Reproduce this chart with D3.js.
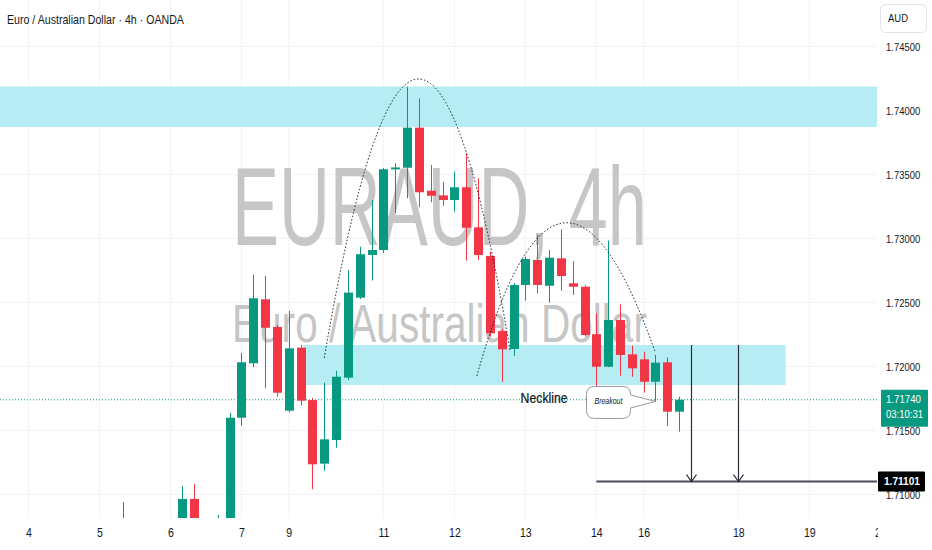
<!DOCTYPE html>
<html><head><meta charset="utf-8">
<script src="https://cdn.jsdelivr.net/npm/d3@7/dist/d3.min.js"></script>
<style>html,body{margin:0;padding:0;background:#fff;}svg{display:block;}</style>
</head><body>
<svg id="chart" width="932" height="550"></svg>
<script>
// ---------- DATA ----------
const title = "Euro / Australian Dollar · 4h · OANDA";
const watermark1 = "EURAUD, 4h";
const watermark2 = "Euro / Australian Dollar";
const currency = "AUD";
const firstBar = 8;
const opens  = [1.70720,1.70790,1.70690,1.70730,1.70700,1.70780,1.70965,1.70790,1.70710,1.70760,1.71600,1.72025,1.72525,1.72309,1.71655,1.72147,1.71738,1.71241,1.71426,1.71913,1.72538,1.72871,1.72910,1.73540,1.73553,1.73866,1.73373,1.73337,1.73301,1.73400,1.73087,1.72863,1.72277,1.72137,1.72637,1.72832,1.72631,1.72845,1.72650,1.72623,1.72252,1.71998,1.72363,1.72095,1.72056,1.71881,1.72033,1.71647];
const highs  = [1.70941,1.70800,1.70760,1.70790,1.70800,1.71066,1.71082,1.70810,1.70840,1.71637,1.72106,1.72715,1.72707,1.72324,1.72434,1.72168,1.71754,1.71873,1.71967,1.72754,1.72936,1.73301,1.73551,1.73588,1.74186,1.74095,1.73574,1.73444,1.73522,1.73666,1.73470,1.72897,1.72293,1.72652,1.72858,1.73027,1.72910,1.73072,1.72824,1.72635,1.72416,1.72983,1.72486,1.72163,1.72116,1.72090,1.72072,1.71764];
const lows   = [1.70680,1.70640,1.70600,1.70660,1.70670,1.70740,1.70720,1.70680,1.70660,1.70720,1.71538,1.71994,1.71830,1.71764,1.71642,1.71697,1.71041,1.71186,1.71366,1.71895,1.72527,1.72672,1.72887,1.73197,1.73314,1.73244,1.73283,1.73256,1.73209,1.72827,1.72832,1.72233,1.71881,1.72082,1.72514,1.72572,1.72498,1.72592,1.72559,1.72234,1.71822,1.71995,1.71928,1.71920,1.71795,1.71725,1.71535,1.71491];
const closes = [1.70790,1.70690,1.70730,1.70700,1.70780,1.70965,1.70790,1.70710,1.70760,1.71600,1.72033,1.72533,1.72303,1.71795,1.72142,1.71733,1.71236,1.71431,1.71920,1.72577,1.72877,1.72910,1.73541,1.73555,1.73866,1.73361,1.73334,1.73301,1.73400,1.73084,1.72871,1.72259,1.72134,1.72637,1.72840,1.72637,1.72850,1.72707,1.72623,1.72246,1.71998,1.72363,1.72090,1.71986,1.71881,1.72030,1.71647,1.71740];
const priceTicks = [1.745,1.740,1.735,1.730,1.725,1.720,1.715,1.710];
const dayLabels = ["4","5","6","7","9","11","12","13","14","16","18","19","20"];
const dayBars   = [0,6,12,18,22,30,36,42,48,52,60,66,72];
const lastPrice = 1.71740;
const countdown = "03:10:31";
const targetPrice = 1.71101;
// annotations (bar index, price)
const zoneBars   = [[-3, 80], [23.2, 64]];
const zonePrices = [[1.741875, 1.738711], [1.72168, 1.718555]];
const arcStart = [[25, 1.72066], [37.9, 1.71926]];
const arcPeak  = [[32.92, 1.74246], [45.18, 1.73121]];
const arcEnd   = [[40.7, 1.72129], [53.0, 1.72106]];
const arrowBars = [56, 60];
const arrowTop = 1.72168;
const targetStartBar = 48;
const necklineText = "Neckline";
const necklineAnchor = [41.6, 1.71745];
const breakoutText = "Breakout";
const breakoutTip = [53, 1.71727];

// ---------- LAYOUT ----------
const W = 932, H = 550, plotW = 877, plotH = 518;
const green = "#089981", red = "#F23645";
const font = "'Liberation Sans',Arial,sans-serif";
const svg = d3.select("#chart");
svg.append("rect").attr("width", W).attr("height", H).attr("fill", "#fff");

// squeeze text horizontally (the reference uses a narrow face)
function squeezeTo(sel, width) {
  sel.each(function () {
    const t = d3.select(this);
    const x0 = +t.attr("x") || 0, y0 = +t.attr("y") || 0;
    const w = this.getComputedTextLength();
    const k = width / w;
    t.attr("x", 0).attr("y", 0).attr("transform", `translate(${x0},${y0}) scale(${k},1)`);
  });
}
function squeezeBy(sel, k) {
  sel.each(function () {
    const t = d3.select(this);
    const x0 = +t.attr("x") || 0, y0 = +t.attr("y") || 0;
    t.attr("x", 0).attr("y", 0).attr("transform", `translate(${x0},${y0}) scale(${k},1)`);
  });
}

const x = d3.scaleLinear().domain([-2.409, 71.725]).range([0, plotW]);
const y = d3.scaleLinear().domain([1.708164, 1.748633]).range([plotH, 0]);

const defs = svg.append("defs");
defs.append("clipPath").attr("id", "plotClip").append("rect").attr("width", plotW).attr("height", plotH);
defs.append("clipPath").attr("id", "xClipL").append("rect").attr("x", 0).attr("y", -20).attr("width", plotW + 1).attr("height", 60);

const plot = svg.append("g").attr("clip-path", "url(#plotClip)");

// gridlines
plot.append("g").selectAll("line").data(priceTicks).join("line")
  .attr("x1", 0).attr("x2", plotW).attr("y1", d => y(d)).attr("y2", d => y(d))
  .attr("stroke", "#f0f3fa").attr("stroke-width", 1);
plot.append("g").selectAll("line").data(dayBars).join("line")
  .attr("x1", d => x(d)).attr("x2", d => x(d)).attr("y1", 0).attr("y2", plotH)
  .attr("stroke", "#f0f3fa").attr("stroke-width", 1);

// watermark
const wm1 = plot.append("text").attr("x", 232).attr("y", 245).text(watermark1)
  .attr("font-family", font).attr("font-size", 112).attr("fill", "#c6c6c6");
squeezeTo(wm1, 415);
const wm2 = plot.append("text").attr("x", 232).attr("y", 342).text(watermark2)
  .attr("font-family", font).attr("font-size", 53).attr("fill", "#c6c6c6");
squeezeTo(wm2, 415);

// zones
plot.append("g").selectAll("rect").data(zoneBars).join("rect")
  .attr("x", d => x(d[0])).attr("width", d => x(d[1]) - x(d[0]))
  .attr("y", (d, i) => y(zonePrices[i][0]))
  .attr("height", (d, i) => y(zonePrices[i][1]) - y(zonePrices[i][0]))
  .attr("fill", "#b2ebf2").attr("fill-opacity", 0.95);

// current price line
plot.append("line").attr("x1", 0).attr("x2", plotW).attr("y1", y(lastPrice)).attr("y2", y(lastPrice))
  .attr("stroke", green).attr("stroke-width", 1).attr("stroke-dasharray", "1,2");

// candles
const bars = opens.map((o, k) => ({i: firstBar + k, o, h: highs[k], l: lows[k], c: closes[k]}));
const bw = (x(1) - x(0)) * 0.76;
const cg = plot.append("g");
cg.selectAll("line").data(bars).join("line")
  .attr("x1", d => Math.round(x(d.i)) + 0.5).attr("x2", d => Math.round(x(d.i)) + 0.5)
  .attr("y1", d => y(d.h)).attr("y2", d => y(d.l))
  .attr("stroke", d => d.c >= d.o ? green : red).attr("stroke-width", 1);
cg.selectAll("rect").data(bars).join("rect")
  .attr("x", d => Math.round(x(d.i)) + 0.5 - bw / 2).attr("width", bw)
  .attr("y", d => y(Math.max(d.o, d.c)))
  .attr("height", d => Math.max(1, Math.abs(y(d.o) - y(d.c))))
  .attr("fill", d => d.c >= d.o ? green : red);

// arcs (quadratic curves through peak)
arcStart.forEach((s, k) => {
  const p0 = [x(s[0]), y(s[1])], pk = [x(arcPeak[k][0]), y(arcPeak[k][1])], p2 = [x(arcEnd[k][0]), y(arcEnd[k][1])];
  const c = [2 * pk[0] - (p0[0] + p2[0]) / 2, 2 * pk[1] - (p0[1] + p2[1]) / 2];
  const path = d3.path();
  path.moveTo(p0[0], p0[1]); path.quadraticCurveTo(c[0], c[1], p2[0], p2[1]);
  plot.append("path").attr("d", path.toString()).attr("fill", "none")
    .attr("stroke", "#131722").attr("stroke-width", 1).attr("stroke-dasharray", "1.5,2");
});

// target line
plot.append("line").attr("x1", x(targetStartBar)).attr("x2", plotW)
  .attr("y1", y(targetPrice)).attr("y2", y(targetPrice))
  .attr("stroke", "#4a4d57").attr("stroke-width", 2);

// arrows
arrowBars.forEach(b => {
  const ax = Math.round(x(b)) + 0.5, y0 = y(arrowTop), y1 = y(targetPrice);
  const g = plot.append("g").attr("stroke", "#2a2e39").attr("stroke-width", 1.2).attr("fill", "none");
  g.append("line").attr("x1", ax).attr("x2", ax).attr("y1", y0).attr("y2", y1);
  g.append("path").attr("d", `M${ax - 5},${y1 - 7} L${ax},${y1} L${ax + 5},${y1 - 7}`);
});

// neckline label
const nk = plot.append("text").attr("x", x(necklineAnchor[0])).attr("y", y(necklineAnchor[1]))
  .attr("dominant-baseline", "middle").text(necklineText)
  .attr("font-family", font).attr("font-size", 15).attr("fill", "#131722")
  .attr("stroke", "#131722").attr("stroke-width", 0.25);
squeezeTo(nk, 47);

// breakout callout
{
  const tx = x(breakoutTip[0]), ty = y(breakoutTip[1]);
  const L = tx - 69, R = tx - 25, T = ty - 15, B = ty + 17, r = 8, b1 = ty - 6.5, b2 = ty + 6.5;
  const d = `M${L + r},${T} H${R - r} Q${R},${T} ${R},${T + r} V${b1} L${tx},${ty} L${R},${b2} V${B - r} Q${R},${B} ${R - r},${B} H${L + r} Q${L},${B} ${L},${B - r} V${T + r} Q${L},${T} ${L + r},${T} Z`;
  plot.append("path").attr("d", d).attr("fill", "#fff").attr("stroke", "#9598a1").attr("stroke-width", 1);
  const bt = plot.append("text").attr("x", L + 8).attr("y", ty).attr("dominant-baseline", "middle")
    .text(breakoutText).attr("font-family", font)
    .attr("font-style", "italic").attr("font-size", 9).attr("fill", "#131722");
  squeezeTo(bt, 28);
}

// ---------- AXES ----------
const yAxis = d3.axisRight(y).tickValues(priceTicks).tickSize(0).tickPadding(0).tickFormat(d3.format(".5f"));
const yg = svg.append("g").attr("transform", `translate(886,0)`).call(yAxis);
yg.select(".domain").remove();
yg.selectAll("text").attr("font-family", font).attr("font-size", 11).attr("fill", "#131722");
squeezeBy(yg.selectAll("text"), 0.86);

const xAxis = d3.axisBottom(x).tickValues(dayBars).tickSize(0).tickPadding(0)
  .tickFormat((d, i) => dayLabels[i]);
const xg = svg.append("g").attr("transform", `translate(0,${plotH + 10})`).attr("clip-path", "url(#xClipL)").call(xAxis);
xg.select(".domain").remove();
xg.selectAll("text").attr("font-family", font).attr("font-size", 12).attr("fill", "#131722").attr("dy", "0.71em");
squeezeBy(xg.selectAll("text"), 0.88);

// currency box
svg.append("rect").attr("x", 880.5).attr("y", 4.5).attr("width", 46).attr("height", 28).attr("rx", 5)
  .attr("fill", "#fff").attr("stroke", "#e0e3eb");
const cur = svg.append("text").attr("x", 888).attr("y", 19).attr("dominant-baseline", "middle").text(currency)
  .attr("font-family", font).attr("font-size", 11).attr("fill", "#131722");
squeezeBy(cur, 0.86);

// last price label
{
  const py = y(lastPrice);
  svg.append("rect").attr("x", 881).attr("y", py - 10).attr("width", 47).attr("height", 37).attr("fill", green).attr("rx", 1);
  const t1 = svg.append("text").attr("x", 886).attr("y", py).attr("dominant-baseline", "middle").text(d3.format(".5f")(lastPrice))
    .attr("font-family", font).attr("font-size", 11.5).attr("fill", "#fff");
  squeezeTo(t1, 35);
  const t2 = svg.append("text").attr("x", 886).attr("y", py + 15).attr("dominant-baseline", "middle").text(countdown)
    .attr("font-family", font).attr("font-size", 11.5).attr("fill", "#fff");
  squeezeTo(t2, 37);
}
// target price label
{
  const py = y(targetPrice);
  svg.append("rect").attr("x", 878).attr("y", py - 10).attr("width", 47).attr("height", 20).attr("fill", "#000").attr("rx", 1);
  const t = svg.append("text").attr("x", 884).attr("y", py).attr("dominant-baseline", "middle").text(d3.format(".5f")(targetPrice))
    .attr("font-family", font).attr("font-size", 11.5).attr("font-weight", "bold").attr("fill", "#fff");
  squeezeTo(t, 36);
}

// title
const tt = svg.append("text").attr("x", 7).attr("y", 23.5).text(title)
  .attr("font-family", font).attr("font-size", 13).attr("fill", "#131722");
squeezeTo(tt, 177);
</script>
</body></html>
